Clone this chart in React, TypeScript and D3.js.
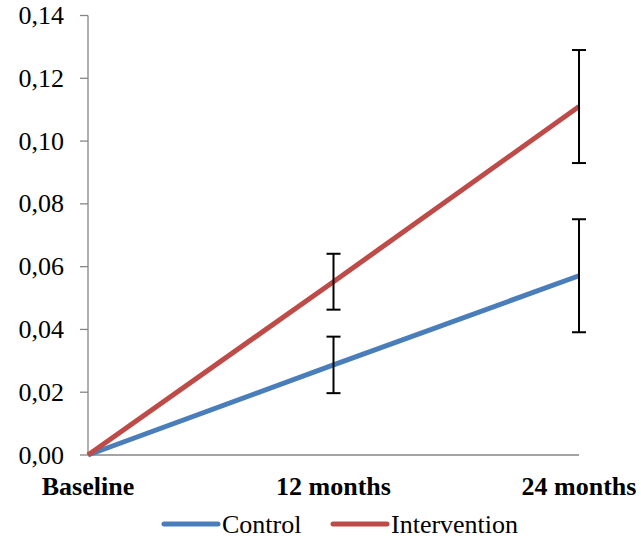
import React from "react";
import * as d3 from "d3";

const categories = ["Baseline", "12 months", "24 months"];
const controlValues = [0, 0.0287, 0.0571];
const controlErrors = [0, 0.009, 0.018];
const interventionValues = [0, 0.0552, 0.111];
const interventionErrors = [0, 0.0089, 0.018];
const yTicks = [0, 0.02, 0.04, 0.06, 0.08, 0.1, 0.12, 0.14];

const series = [
  { name: "Control", values: controlValues, errors: controlErrors, color: "#4a7ebb" },
  { name: "Intervention", values: interventionValues, errors: interventionErrors, color: "#be4b48" },
];

const FONT = "'Liberation Serif', 'Times New Roman', serif";
const FS = 26;

export default function App() {
  const W = 641, H = 539;
  const x = d3.scalePoint<string>().domain(categories).range([88, 579]);
  const y = d3.scaleLinear().domain([0, 0.14]).range([455, 15.5]);
  const line = d3
    .line<number>()
    .x((_, i) => x(categories[i]) as number)
    .y((d) => y(d));
  const fmt = (v: number) => v.toFixed(2).replace(".", ",");
  const ts = { fontFamily: FONT, fontSize: FS } as React.CSSProperties;
  return (
    <svg width={W} height={H} style={{ position: "absolute", left: 0, top: 0 }}>
      <rect width={W} height={H} fill="#fff" />
      <line x1={88} x2={88} y1={y(0.14)} y2={y(0)} stroke="#868686" strokeWidth={1.3} />
      <line x1={88} x2={x("24 months") as number} y1={y(0)} y2={y(0)} stroke="#868686" strokeWidth={1.3} />
      {yTicks.map((t) => (
        <g key={t}>
          <line x1={80} x2={88} y1={y(t)} y2={y(t)} stroke="#868686" strokeWidth={1.3} />
          <text x={64} y={y(t) + 8.5} textAnchor="end" style={ts} fill="#000">
            {fmt(t)}
          </text>
        </g>
      ))}
      {categories.map((c) => (
        <text key={c} x={x(c) as number} y={495} textAnchor="middle" style={{ ...ts, fontWeight: "bold" }} fill="#000">
          {c}
        </text>
      ))}
      {series.map((s) => (
        <path key={s.name} d={line(s.values) || ""} fill="none" stroke={s.color} strokeWidth={5} />
      ))}
      {series.map((s) =>
        s.values.map((v, i) => {
          const e = s.errors[i];
          if (!e) return null;
          const cx = x(categories[i]) as number;
          return (
            <g key={s.name + i} stroke="#000" strokeWidth={2}>
              <line x1={cx} x2={cx} y1={y(v + e)} y2={y(v - e)} />
              <line x1={cx - 7} x2={cx + 7} y1={y(v + e)} y2={y(v + e)} />
              <line x1={cx - 7} x2={cx + 7} y1={y(v - e)} y2={y(v - e)} />
            </g>
          );
        })
      )}
      {series.map((s, i) => {
        const lx = i === 0 ? 164 : 333;
        return (
          <g key={s.name}>
            <line x1={lx} x2={lx + 54} y1={524} y2={524} stroke={s.color} strokeWidth={5} strokeLinecap="round" />
            <text x={lx + 58} y={533} style={ts} fill="#000">
              {s.name}
            </text>
          </g>
        );
      })}
    </svg>
  );
}
